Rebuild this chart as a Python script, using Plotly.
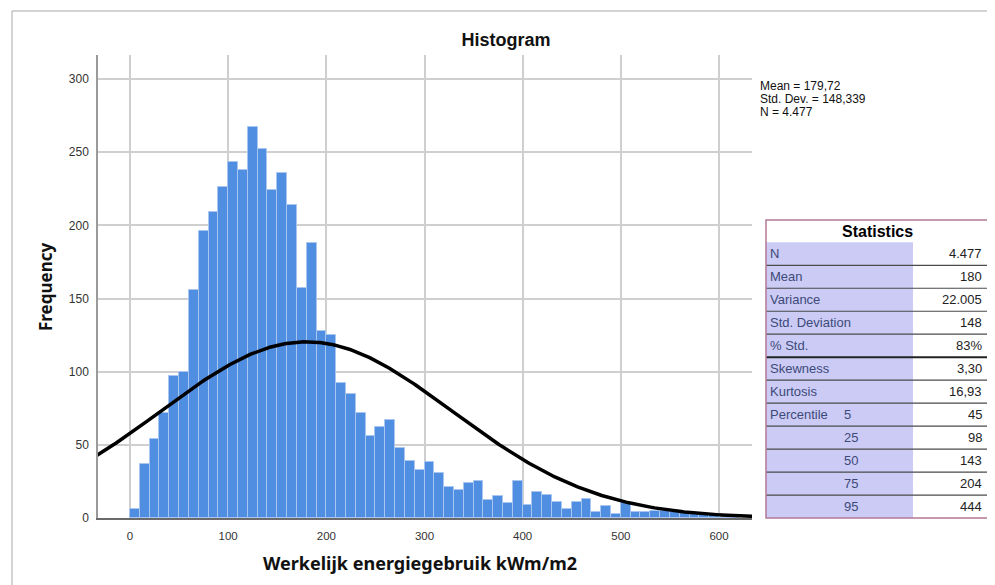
import numpy as np
import plotly.graph_objects as go

# ---------------- data ----------------
bin_width = 10
bin_starts = list(range(0, 620, 10))
counts = [6, 37, 54, 72, 97, 100, 156, 196, 209, 226, 243, 238, 267, 252, 224, 236,
          214, 157, 188, 128, 125, 92, 85, 72, 56, 62, 67, 48, 39, 33, 38, 31, 21, 19,
          24, 25, 12, 15, 10, 25, 9, 18, 16, 11, 6, 11, 13, 4, 8, 3, 10, 4, 4, 5, 5,
          4, 4, 3, 2, 2, 1, 1]
mean_val = 179.72
std_val = 148.339
n_val = 4477
legend_lines = ["Mean = 179,72", "Std. Dev. = 148,339", "N = 4.477"]

x_ticks = [0, 100, 200, 300, 400, 500, 600]
y_ticks = [0, 50, 100, 150, 200, 250, 300]

table_title = "Statistics"
table_labels = ["N", "Mean", "Variance", "Std. Deviation", "% Std.", "Skewness",
                "Kurtosis", "Percentile", "", "", "", ""]
table_sublabels = ["", "", "", "", "", "", "", "5", "25", "50", "75", "95"]
table_values = ["4.477", "180", "22.005", "148", "83%", "3,30", "16,93",
                "45", "98", "143", "204", "444"]

# ---------------- figure ----------------
OFF = 8                      # page body margin
W, H = 995 - OFF, 585 - OFF  # figure size
L, R, T, B = 98, 752, 55, 518   # plot area in page pixels


def fx(p):
    return (p - L) / (R - L)


def fy(q):
    return (B - q) / (B - T)


centers = [s + bin_width / 2 for s in bin_starts]

fig = go.Figure()
fig.add_trace(go.Bar(
    x=centers, y=counts, width=bin_width,
    marker=dict(color="#4f8ee0", line=dict(color="#a8c6f0", width=1)),
    hoverinfo="x+y", showlegend=False,
))

xs = np.linspace(-40, 640, 400)
ys = n_val * bin_width * np.exp(-0.5 * ((xs - mean_val) / std_val) ** 2) / (std_val * np.sqrt(2 * np.pi))
fig.add_trace(go.Scatter(x=xs, y=ys, mode="lines",
                         line=dict(color="black", width=3.5), showlegend=False,
                         hoverinfo="skip"))

px_per_x = 589 / 600.0
px_per_y = 439 / 300.0
x0_px = 130
xr = [(L - x0_px) / px_per_x, (R - x0_px) / px_per_x]
yr = [0, (B - T) / px_per_y]

ytick_font = dict(family="Liberation Sans, Arial, sans-serif", size=12, color="#333333")
xtick_font = dict(family="Liberation Sans, Arial, sans-serif", size=11.5, color="#333333")

fig.update_layout(
    width=W, height=H,
    margin=dict(l=L - OFF, r=W - (R - OFF), t=T - OFF, b=H - (B - OFF), pad=0),
    paper_bgcolor="white", plot_bgcolor="white",
    bargap=0,
    title=dict(text="Histogram", x=(506 - OFF) / W, y=1 - (40 - OFF) / H,
               xanchor="center", yanchor="middle", xref="container", yref="container",
               font=dict(family="Liberation Sans, Arial, sans-serif", size=18, color="#111111", weight="bold")),
    xaxis=dict(range=xr, tickvals=x_ticks, ticktext=[str(v) for v in x_ticks],
               showgrid=True, gridcolor="#cfcfcf", gridwidth=1.5, zeroline=False,
               showline=True, linecolor="#6a6a6a", linewidth=1.5, ticks="",
               ticklabelstandoff=6, tickfont=xtick_font),
    yaxis=dict(range=yr, tickvals=y_ticks, ticktext=[str(v) for v in y_ticks],
               showgrid=True, gridcolor="#cfcfcf", gridwidth=1.5, zeroline=False,
               showline=True, linecolor="#9a9a9a", linewidth=1.5, ticks="",
               ticklabelstandoff=5, tickfont=ytick_font),
)

shapes = []
annotations = []

# outer frame of the output
shapes.append(dict(type="rect", xref="paper", yref="paper",
                   x0=fx(12), x1=fx(1010), y0=fy(600), y1=fy(11),
                   line=dict(color="#a8a8a8", width=1), fillcolor="rgba(0,0,0,0)", layer="below"))

# axis titles
annotations.append(dict(text="Frequency", xref="paper", yref="paper",
                        x=fx(45), y=fy(287), textangle=-90, showarrow=False,
                        xanchor="center", yanchor="middle",
                        font=dict(family="Noto Sans, sans-serif", size=17, color="#111111", weight="bold")))
annotations.append(dict(text="Werkelijk energiegebruik kWm/m2", xref="paper", yref="paper",
                        x=fx(420), y=fy(563), showarrow=False, xanchor="center", yanchor="middle",
                        font=dict(family="Noto Sans, sans-serif", size=18, color="#111111", weight="bold")))

# legend text
for i, line in enumerate(legend_lines):
    annotations.append(dict(text=line, xref="paper", yref="paper",
                            x=fx(759), y=fy(85.5 + i * 13), showarrow=False,
                            xanchor="left", yanchor="middle", height=12, borderpad=0,
                            font=dict(family="Liberation Sans, Arial, sans-serif", size=12, color="#111111")))

# statistics table
tl, tr, tt, tb = 766, 988, 220, 518
head_b = 242.3
lab_r = 913
nrows = len(table_values)
row_h = (tb - head_b) / nrows

shapes.append(dict(type="rect", xref="paper", yref="paper",
                   x0=fx(tl), x1=fx(tr), y0=fy(tb), y1=fy(tt),
                   line=dict(width=0), fillcolor="white", layer="above"))
shapes.append(dict(type="rect", xref="paper", yref="paper",
                   x0=fx(tl), x1=fx(lab_r), y0=fy(tb), y1=fy(head_b),
                   line=dict(width=0), fillcolor="#cbcbf6", layer="above"))
for i in range(1, nrows):
    yy = head_b + i * row_h
    thick = (i == 5)
    shapes.append(dict(type="line", xref="paper", yref="paper",
                       x0=fx(tl), x1=fx(tr), y0=fy(yy), y1=fy(yy),
                       line=dict(color="#222222" if thick else "#4a4a4a", width=2 if thick else 1.2),
                       layer="above"))
shapes.append(dict(type="rect", xref="paper", yref="paper",
                   x0=fx(tl), x1=fx(tr), y0=fy(tb), y1=fy(tt),
                   line=dict(color="#b27a96", width=1.5), fillcolor="rgba(0,0,0,0)", layer="above"))

annotations.append(dict(text=table_title, xref="paper", yref="paper",
                        x=fx((tl + tr) / 2), y=fy(231.5), showarrow=False,
                        xanchor="center", yanchor="middle",
                        font=dict(family="Liberation Sans, Arial, sans-serif", size=16, color="#000000", weight="bold")))
cell_font = dict(family="Liberation Sans, Arial, sans-serif", size=13, color="#3d4a78")
val_font = dict(family="Liberation Sans, Arial, sans-serif", size=13, color="#222222")
for i in range(nrows):
    yc = head_b + (i + 0.5) * row_h
    if table_labels[i]:
        annotations.append(dict(text=table_labels[i], xref="paper", yref="paper",
                                x=fx(768), y=fy(yc), showarrow=False,
                                xanchor="left", yanchor="middle", font=cell_font))
    if table_sublabels[i]:
        annotations.append(dict(text=table_sublabels[i], xref="paper", yref="paper",
                                x=fx(842), y=fy(yc), showarrow=False,
                                xanchor="left", yanchor="middle", font=cell_font))
    annotations.append(dict(text=table_values[i], xref="paper", yref="paper",
                            x=fx(984), y=fy(yc), showarrow=False,
                            xanchor="right", yanchor="middle", font=val_font))

fig.update_layout(shapes=shapes, annotations=annotations)
fig.write_html("out.html")
